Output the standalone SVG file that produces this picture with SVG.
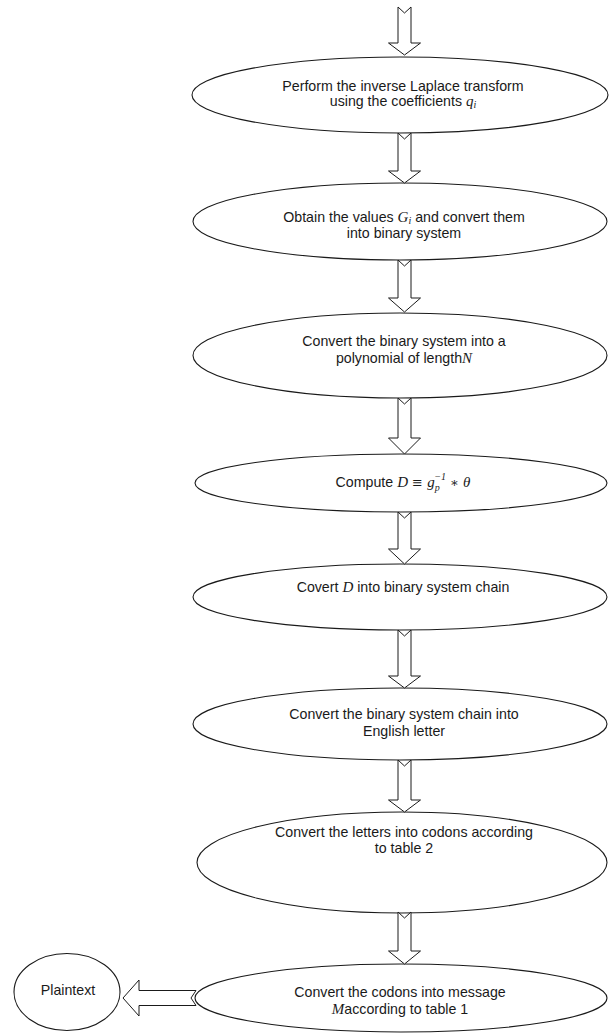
<svg xmlns="http://www.w3.org/2000/svg" width="609" height="1035" viewBox="0 0 609 1035">
<style>
  .node { fill: #ffffff; stroke: #1a1a1a; stroke-width: 1.1; }
  .arr { fill: #ffffff; stroke: #1a1a1a; stroke-width: 1; stroke-linejoin: miter; }
  .t { font-family: "Liberation Sans", Arial, sans-serif; font-size: 14.2px; fill: #1a1a1a; text-anchor: middle; }
  .m { font-family: "Liberation Serif", "Times New Roman", serif; font-style: italic; font-size: 15px; }
  .s { font-family: "Liberation Serif", "Times New Roman", serif; font-style: italic; font-size: 10px; }
  .r { font-family: "DejaVu Serif", "Liberation Serif", serif; font-size: 13px; }
</style>
<rect width="609" height="1035" fill="#ffffff"/>

<g id="node1">
  <ellipse class="node" cx="400" cy="95" rx="208" ry="38"/>
  <text class="t" x="403" y="90.5">Perform the inverse Laplace transform</text>
  <text class="t" x="403" y="105.5">using the coefficients <tspan class="m">q</tspan><tspan class="s" dy="2">i</tspan></text>
</g>
<g id="node2">
  <ellipse class="node" cx="400" cy="221.5" rx="207" ry="38.5"/>
  <text class="t" x="404" y="221.5">Obtain the values <tspan class="m">G</tspan><tspan class="s" dy="2">i</tspan><tspan dy="-2"> and convert them</tspan></text>
  <text class="t" x="404" y="237.5">into binary system</text>
</g>
<g id="node3">
  <ellipse class="node" cx="400" cy="355.5" rx="207" ry="42.5"/>
  <text class="t" x="404" y="345.5">Convert  the binary system into a</text>
  <text class="t" x="404" y="362.5">polynomial of length<tspan class="m">N</tspan></text>
</g>
<g id="node4">
  <ellipse class="node" cx="401" cy="483" rx="206" ry="29"/>
  <text class="t" x="403" y="486.5">Compute <tspan class="m">D</tspan><tspan class="r"> ≡ </tspan><tspan class="m">g</tspan><tspan class="s" dy="4">p</tspan><tspan class="s" dx="-5.5" dy="-11">−1</tspan><tspan class="r" dy="7"> ∗ </tspan><tspan class="m">θ</tspan></text>
</g>
<g id="node5">
  <ellipse class="node" cx="400" cy="597" rx="207" ry="33"/>
  <text class="t" x="403" y="591.5">Covert <tspan class="m">D</tspan> into binary system chain</text>
</g>
<g id="node6">
  <ellipse class="node" cx="400" cy="724" rx="207" ry="36"/>
  <text class="t" x="404" y="718.5">Convert  the binary system chain into</text>
  <text class="t" x="404" y="735.5">English letter</text>
</g>
<g id="node7">
  <ellipse class="node" cx="402" cy="862.5" rx="205" ry="50.5"/>
  <text class="t" x="404" y="836.5">Convert  the letters into codons according</text>
  <text class="t" x="404" y="852.5">to table 2</text>
</g>
<g id="node8">
  <ellipse class="node" cx="401" cy="998" rx="206" ry="34"/>
  <text class="t" x="400" y="996.5">Convert  the codons into message</text>
  <text class="t" x="400" y="1013.5"><tspan class="m">M</tspan>according to table 1</text>
</g>
<g id="node9">
  <ellipse class="node" cx="67" cy="992" rx="53" ry="38.5"/>
  <text class="t" x="68" y="995">Plaintext</text>
</g>

<g id="connectors">
  <polygon class="arr" points="398,7 404.5,13 411,7 411,43 420.5,43 404.5,55 388.5,43 398,43"/>
  <polygon class="arr" points="398,133 404.5,139 411,133 411,171 420.5,171 404.5,183 388.5,171 398,171"/>
  <polygon class="arr" points="398,260 404.5,266 411,260 411,298 420.5,298 404.5,312 388.5,298 398,298"/>
  <polygon class="arr" points="398,398 404.5,404 411,398 411,438 420.5,438 404.5,454 388.5,438 398,438"/>
  <polygon class="arr" points="398,512 404.5,518 411,512 411,549 420.5,549 404.5,564 388.5,549 398,549"/>
  <polygon class="arr" points="398,630 404.5,636 411,630 411,676 420.5,676 404.5,688 388.5,676 398,676"/>
  <polygon class="arr" points="398,760 404.5,766 411,760 411,800 420.5,800 404.5,812 388.5,800 398,800"/>
  <polygon class="arr" points="398,912 404.5,918 411,912 411,951 420.5,951 404.5,964 388.5,951 398,951"/>
  <polygon class="arr" points="196,990.5 191,998 196,1005.5 139,1005.5 139,1016 123,998 139,980 139,990.5"/>
</g>
</svg>
